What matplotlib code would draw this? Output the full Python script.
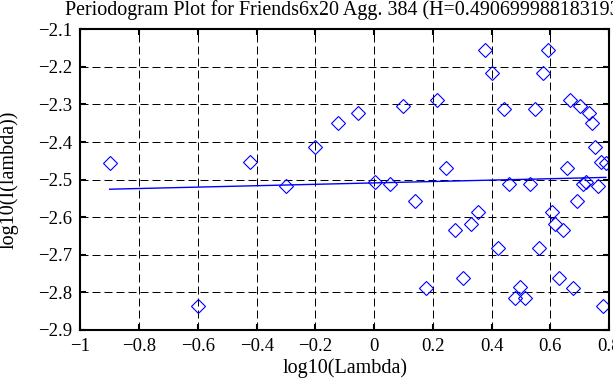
import numpy as np
import matplotlib
matplotlib.use('Agg')
import matplotlib.pyplot as plt

# periodogram points
log_lambda = [-0.9008, -0.5998, -0.4237, -0.2987, -0.2018, -0.1226, -0.0557, 0.0023,
              0.0535, 0.0992, 0.1406, 0.1784, 0.2132, 0.2453, 0.2753, 0.3033,
              0.3297, 0.3545, 0.3780, 0.4002, 0.4214, 0.4416, 0.4609, 0.4794,
              0.4972, 0.5142, 0.5306, 0.5464, 0.5616, 0.5763, 0.5906, 0.6044,
              0.6177, 0.6307, 0.6433, 0.6555, 0.6674, 0.6790, 0.6903, 0.7013,
              0.7120, 0.7225, 0.7327, 0.7427, 0.7524, 0.7620, 0.7713, 0.7805, 0.7894]
log_I = [-2.456, -2.835, -2.453, -2.516, -2.413, -2.349, -2.324, -2.505,
         -2.511, -2.305, -2.558, -2.789, -2.287, -2.468, -2.634, -2.763,
         -2.618, -2.585, -2.155, -2.215, -2.682, -2.312, -2.511, -2.814,
         -2.786, -2.814, -2.511, -2.312, -2.682, -2.215, -2.155, -2.585,
         -2.618, -2.763, -2.634, -2.468, -2.287, -2.789, -2.558, -2.305,
         -2.511, -2.505, -2.324, -2.349, -2.413, -2.516, -2.453, -2.835, -2.456]

H = 0.490699988183193
fit_slope = 1 - 2 * H
fit_intercept = -2.5087

xticks = [-1, -0.8, -0.6, -0.4, -0.2, 0, 0.2, 0.4, 0.6, 0.8]
yticks = [-2.9, -2.8, -2.7, -2.6, -2.5, -2.4, -2.3, -2.2, -2.1]

plt.rcParams['font.family'] = ['Liberation Serif', 'DejaVu Serif']

fig = plt.figure(figsize=(6.13, 3.85), dpi=100)
ax = fig.add_axes([0.1313, 0.1429, 0.8622, 0.781])

ax.plot(log_lambda, log_I, linestyle='none', marker='D', markersize=7,
        markerfacecolor='none', markeredgecolor='blue', markeredgewidth=0.8)

x_fit = np.array([log_lambda[0], log_lambda[-1]])
ax.plot(x_fit, fit_intercept + fit_slope * x_fit, color='blue', linewidth=1.0)

ax.set_xlim(-1, 0.8)
ax.set_ylim(-2.9, -2.1)
ax.set_xticks(xticks)
ax.set_yticks(yticks)
ax.set_xticklabels(['\u22121', '\u22120.8', '\u22120.6', '\u22120.4', '\u22120.2', '0', '0.2', '0.4', '0.6', '0.8'])
ax.set_yticklabels(['\u2212%.1f' % abs(v) for v in yticks])

ax.grid(True, color='black', linestyle=(0, (8, 4)), linewidth=0.72)
ax.tick_params(direction='in', length=4.5, width=1.5, top=True, right=True,
               labelsize=13.5, pad=6)
for s in ax.spines.values():
    s.set_linewidth(1.5)

ax.set_xlabel('log10(Lambda)', fontsize=14.5, labelpad=2)
ax.set_ylabel('log10(I(lambda))', fontsize=14.5)
ax.yaxis.set_label_coords(-0.118, 0.5)
fig.text(65 / 613, 1 - 10 / 385, 'Periodogram Plot for Friends6x20 Agg. 384 (H=0.490699988183193)',
         ha='left', va='center', fontsize=14.4)

fig.savefig('out.png', dpi=100)
